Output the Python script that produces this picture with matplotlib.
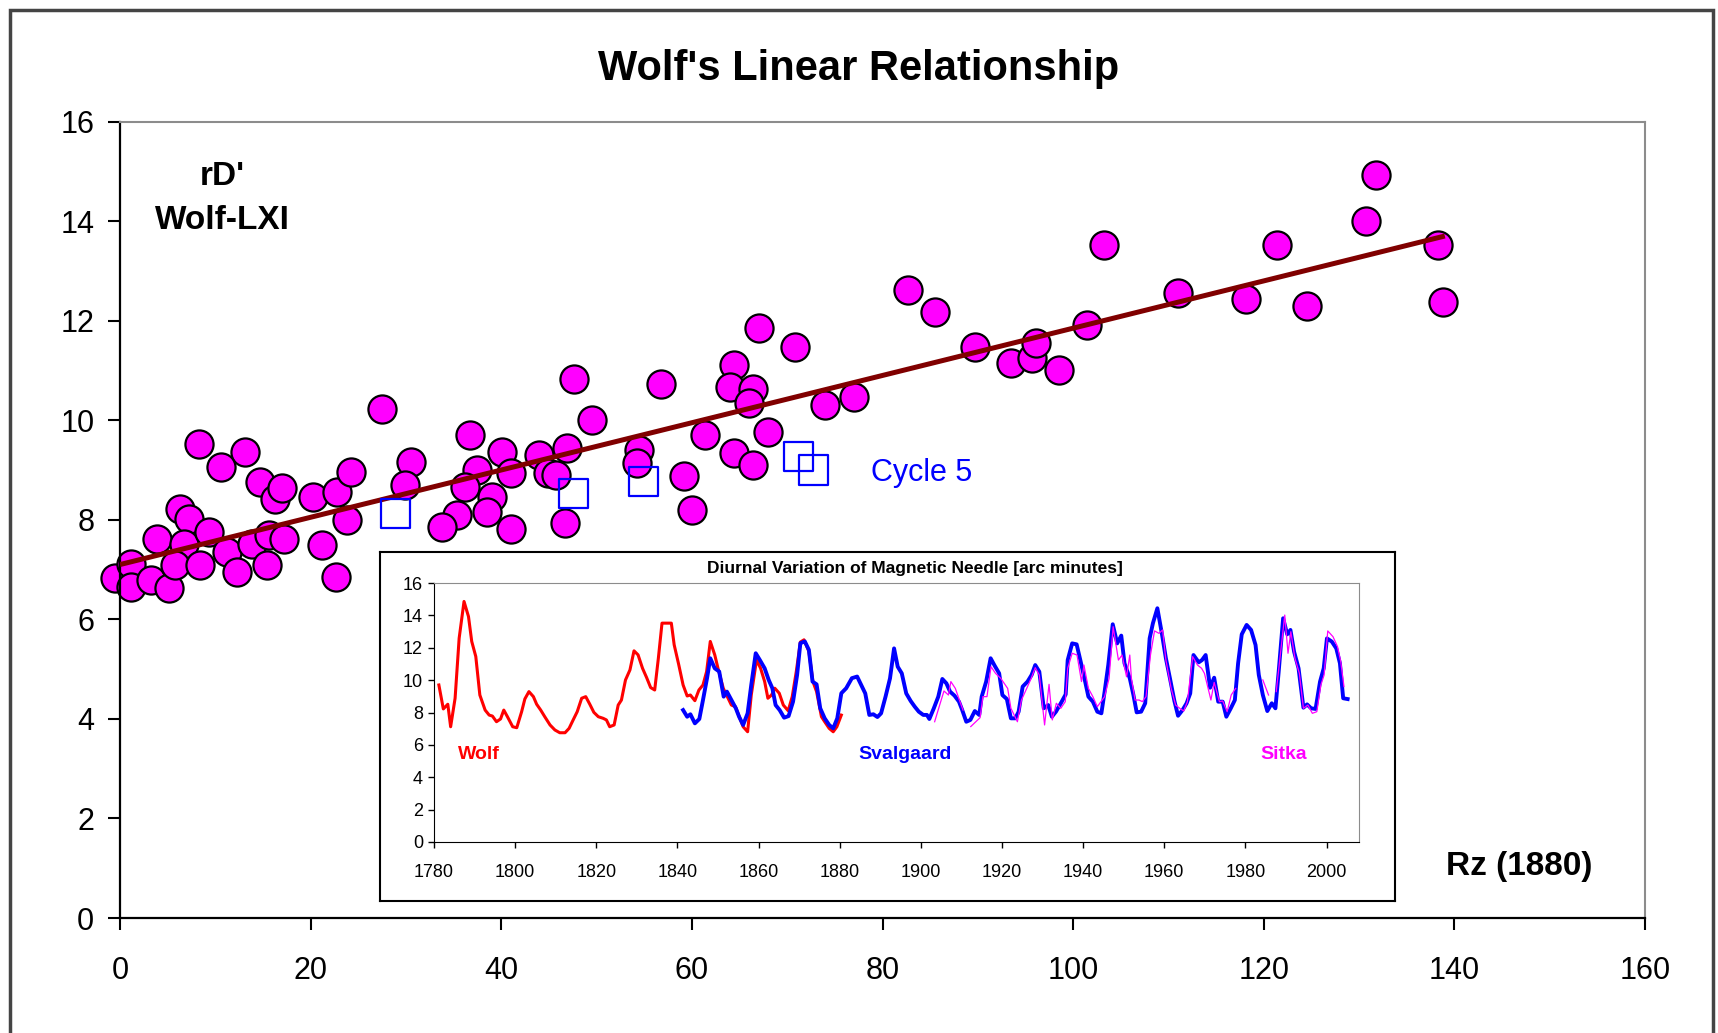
import matplotlib
matplotlib.use("Agg")
import matplotlib.pyplot as plt
import matplotlib.patches as mpatches
import numpy as np

plt.rcParams["font.family"] = ["Liberation Sans", "DejaVu Sans"]

# ---------------------------------------------------------------------------
# Main scatter: rD' (Wolf-LXI) vs Rz
# ---------------------------------------------------------------------------
rz = [-0.5, 1.2, 1.2, 3.3, 5.1, 3.9, 6.3, 7.2, 6.7, 9.3, 5.8, 8.4, 11.2, 12.3,
      13.8, 15.4, 15.6, 17.2, 8.3, 13.1, 10.6, 14.7, 16.3, 17.0, 20.3, 22.8,
      24.2, 23.8, 21.2, 22.7, 27.5, 30.5, 29.9, 36.7, 40.1, 37.5, 41.0, 36.2,
      39.0, 38.5, 35.4, 33.8, 41.0, 44.0, 44.9, 45.7, 46.9, 46.7, 47.6, 49.5,
      56.8, 54.4, 54.2, 61.4, 59.2, 60.0, 64.4, 64.0, 66.4, 66.0, 67.0, 70.8,
      68.0, 64.4, 66.4, 74.0, 77.0, 82.7, 85.5, 89.7, 93.5, 95.7, 96.1, 98.5,
      101.5, 103.2, 111.0, 118.1, 121.4, 124.5, 130.7, 131.8, 138.3, 138.8]
rd = [6.82, 7.12, 6.65, 6.79, 6.62, 7.62, 8.22, 8.02, 7.52, 7.76, 7.09, 7.09,
      7.36, 6.95, 7.52, 7.09, 7.69, 7.62, 9.53, 9.36, 9.06, 8.76, 8.41, 8.63,
      8.46, 8.56, 8.96, 7.99, 7.49, 6.85, 10.23, 9.16, 8.69, 9.70, 9.36, 9.00,
      8.93, 8.66, 8.46, 8.16, 8.09, 7.86, 7.82, 9.31, 8.94, 8.90, 9.45, 7.93,
      10.82, 10.01, 10.73, 9.40, 9.13, 9.70, 8.87, 8.20, 11.11, 10.67, 10.62,
      10.34, 11.85, 11.48, 9.77, 9.34, 9.10, 10.31, 10.47, 12.62, 12.18, 11.48,
      11.14, 11.24, 11.56, 11.01, 11.91, 13.52, 12.56, 12.43, 13.52, 12.29,
      14.01, 14.93, 13.52, 12.38]

# Cycle 5 (open squares)
c5_rz = [28.9, 47.6, 54.9, 71.2, 72.8]
c5_rd = [8.12, 8.52, 8.77, 9.27, 9.00]

# trend line end points
trend_x = [0.0, 139.0]
trend_y = [7.10, 13.70]

# ---------------------------------------------------------------------------
# Inset: diurnal variation time series
# ---------------------------------------------------------------------------
wolf_yr = [1781.2, 1782.3, 1783.4, 1784.1, 1785.2, 1786.2, 1787.4, 1788.5, 1789.3,
           1790.3, 1791.3, 1792.6, 1793.6, 1794.4, 1795.4, 1796.4, 1797.2, 1798.1,
           1799.4, 1800.4, 1801.6, 1802.4, 1803.4, 1804.5, 1805.3, 1806.3, 1807.3,
           1808.6, 1809.8, 1811.0, 1812.3, 1813.3, 1814.3, 1815.3, 1816.4, 1817.4,
           1818.4, 1819.4, 1820.5, 1821.7, 1822.5, 1823.3, 1824.4, 1825.4, 1826.2,
           1827.2, 1828.3, 1829.3, 1830.3, 1831.4, 1832.4, 1833.4, 1834.4, 1835.3,
           1836.2, 1837.3, 1838.5, 1839.2, 1840.3, 1841.4, 1842.4, 1843.2, 1844.3,
           1845.3, 1846.3, 1847.2, 1848.1, 1849.2, 1850.0, 1851.3, 1852.3, 1853.3,
           1854.3, 1855.4, 1856.2, 1857.3, 1858.2, 1859.5, 1860.5, 1861.5, 1862.3,
           1863.2, 1864.0, 1865.1, 1866.1, 1867.3, 1868.3, 1869.3, 1870.3, 1871.2,
           1872.4, 1873.4, 1874.3, 1875.5, 1876.3, 1877.4, 1878.4, 1879.3, 1880.4]
wolf_val = [9.70, 8.22, 8.51, 7.12, 8.88, 12.59, 14.86, 13.93, 12.39, 11.46, 9.08,
            8.15, 7.84, 7.78, 7.43, 7.60, 8.15, 7.74, 7.12, 7.06, 8.05, 8.84, 9.29,
            8.98, 8.51, 8.15, 7.74, 7.23, 6.92, 6.75, 6.75, 7.02, 7.54, 8.05, 8.88,
            8.98, 8.51, 8.01, 7.74, 7.64, 7.54, 7.12, 7.23, 8.46, 8.77, 10.01, 10.63,
            11.81, 11.56, 10.73, 10.16, 9.54, 9.39, 11.35, 13.52, 13.52, 13.52, 12.18,
            10.98, 9.70, 9.02, 9.08, 8.73, 9.39, 9.70, 10.53, 12.39, 11.56, 10.73,
            9.50, 8.98, 8.46, 8.36, 7.64, 7.12, 6.81, 9.08, 11.25, 10.73, 9.91, 8.88,
            9.08, 9.50, 9.19, 8.46, 8.11, 8.98, 10.53, 12.35, 12.49, 11.77, 9.91,
            9.29, 7.74, 7.43, 7.02, 6.81, 7.12, 7.84]

sval_yr = [1841.4, 1842.4, 1843.2, 1844.3, 1845.4, 1846.3, 1847.3, 1848.1, 1849.2,
           1850.3, 1851.4, 1852.2, 1853.3, 1854.4, 1855.2, 1856.2, 1857.3, 1858.2,
           1859.3, 1860.3, 1861.5, 1862.5, 1863.4, 1864.2, 1865.2, 1866.3, 1867.4,
           1868.5, 1869.5, 1870.3, 1871.4, 1872.4, 1873.3, 1874.3, 1875.2, 1876.3,
           1877.4, 1878.4, 1879.4, 1880.4, 1881.6, 1883.0, 1884.3, 1885.3, 1886.3,
           1887.3, 1888.3, 1889.3, 1890.2, 1891.3, 1892.4, 1893.4, 1894.3, 1895.3,
           1896.4, 1897.5, 1898.5, 1899.5, 1900.6, 1901.5, 1902.1, 1903.2, 1904.3,
           1905.3, 1906.3, 1907.2, 1908.3, 1909.4, 1910.2, 1911.2, 1912.2, 1913.3,
           1914.4, 1915.0, 1916.1, 1917.2, 1918.2, 1919.3, 1920.1, 1921.2, 1922.2,
           1923.3, 1924.1, 1925.1, 1926.3, 1927.3, 1928.2, 1929.2, 1930.3, 1931.4,
           1932.3, 1933.3, 1934.5, 1935.7, 1936.2, 1937.3, 1938.4, 1939.4, 1940.5,
           1941.3, 1942.4, 1943.5, 1944.5, 1945.3, 1946.2, 1947.3, 1948.4, 1949.4,
           1950.2, 1951.5, 1952.4, 1953.2, 1954.3, 1955.3, 1956.4, 1957.2, 1958.3,
           1959.4, 1960.4, 1961.4, 1962.5, 1963.4, 1964.5, 1965.5, 1966.4, 1967.2,
           1968.5, 1969.3, 1970.2, 1971.3, 1972.3, 1973.3, 1974.4, 1975.3, 1976.4,
           1977.4, 1978.2, 1979.1, 1980.3, 1981.4, 1982.5, 1983.3, 1984.3, 1985.4,
           1986.5, 1987.4, 1988.2, 1989.3, 1990.3, 1991.1, 1992.0, 1993.1, 1994.3,
           1995.2, 1996.2, 1997.3, 1998.4, 1999.3, 2000.1, 2001.3, 2002.4, 2003.3,
           2004.1, 2005.2]
sval_val = [8.15, 7.74, 7.89, 7.33, 7.60, 8.77, 10.12, 11.35, 10.73, 10.53, 8.98,
            9.29, 8.77, 8.26, 7.74, 7.23, 7.95, 9.70, 11.66, 11.25, 10.73, 10.01,
            9.50, 8.46, 8.15, 7.68, 7.78, 8.67, 10.32, 12.28, 12.39, 11.87, 9.91,
            9.74, 8.26, 7.64, 7.23, 7.02, 7.64, 9.19, 9.50, 10.12, 10.22, 9.70, 9.18,
            7.85, 7.89, 7.72, 7.95, 8.98, 10.11, 11.96, 10.83, 10.42, 9.18, 8.71,
            8.36, 8.05, 7.85, 7.85, 7.60, 8.26, 8.98, 10.07, 9.80, 9.29, 9.04, 8.67,
            8.15, 7.43, 7.54, 8.09, 7.85, 8.98, 9.91, 11.35, 10.89, 10.42, 9.08, 8.83,
            7.64, 7.64, 8.05, 9.60, 9.91, 10.32, 10.93, 10.52, 8.26, 8.46, 7.74, 8.05,
            8.57, 9.12, 11.24, 12.27, 12.21, 11.14, 9.91, 8.98, 8.67, 8.05, 7.95,
            9.29, 10.93, 13.45, 12.27, 12.75, 11.04, 10.11, 9.08, 8.01, 8.05, 8.57,
            12.58, 13.51, 14.44, 12.89, 11.35, 10.11, 8.71, 7.80, 8.15, 8.57, 9.18,
            11.55, 11.10, 11.24, 11.55, 9.53, 10.15, 8.67, 8.67, 7.74, 8.26, 8.77,
            11.04, 12.83, 13.41, 13.10, 12.17, 10.32, 9.08, 8.09, 8.57, 8.26, 10.52,
            13.82, 12.83, 13.10, 11.76, 10.73, 8.30, 8.50, 8.26, 8.22, 9.91, 10.73,
            12.58, 12.38, 11.96, 11.04, 8.88, 8.83]

# Sitka has gaps (nan breaks the line)
sitka_yr = [1903.4, 1904.4, 1905.7, 1906.8, 1907.4, 1908.5, 1909.5, 1910.4, 1911.0,
            1912.3, 1914.6, 1915.3, 1916.3, 1917.3, 1918.4, 1919.7, 1921.4, 1922.2,
            1923.8, 1924.8, 1926.1, 1927.2, 1928.2, 1929.2, 1930.5, 1931.6, 1932.4,
            1933.4, 1934.5, 1935.6, 1936.2, 1937.3, 1938.5, 1939.6, 1940.2, 1941.3,
            1942.4, 1943.5, 1945.3, 1946.4, 1947.4, 1948.7, 1949.6, 1950.7, 1951.5,
            1951.9, 1952.8, 1953.8, 1954.6, 1955.5, 1956.6, 1957.6, 1958.7, 1959.6,
            1960.4, 1961.7, 1962.8, 1963.8, 1964.8, 1965.7, 1967.0, 1968.2, 1969.2,
            1969.9, 1971.0, 1971.5, 1972.3, 1973.6, 1974.4, 1975.5, 1976.5, 1977.6,
            1980.0, 1984.3, 1985.7, 1986.5, 1987.6, 1988.6, 1989.7, 1990.5, 1991.2,
            1992.2, 1993.3, 1994.3, 1995.4, 1996.5, 1997.6, 1998.6, 1999.4, 2000.3,
            2001.6, 2002.7, 2003.5, 2004.3]
sitka_val = [7.43, 8.26, 9.33, 9.08, 9.91, 9.49, 8.77, 8.15, np.nan,
             7.13, 7.68, 8.98, 8.98, 10.83, 10.42, 10.11, 9.49, 8.26,
             7.43, 8.77, 9.49, 10.11, 10.77, 10.32, 7.23, 9.74, 7.54,
             8.57, 8.26, 8.67, 10.73, 11.66, 11.55, 9.91, 10.93, 9.49,
             8.98, 8.36, 8.98, 10.11, 13.30, 11.24, 11.55, 10.21, 11.55,
             10.11, 8.77, 8.77, 8.67, 8.98, 11.55, 13.04, 12.89, 13.10,
             11.24, 9.49, 8.46, 8.26, 8.09, 8.67, 11.45, 10.93, 10.73,
             10.42, 9.29, 8.77, 9.86, 8.67, 8.71, 8.05, 9.08, 9.49,
             np.nan, 10.01, 9.08, np.nan, 9.29, 11.55, 14.02, 11.66, 12.99,
             11.35, 10.42, 8.26, 8.46, 7.95, 8.05, 9.70, 10.32, 13.04,
             12.68, 12.07, 11.14, 9.60]

W, H = 1718, 1033
fig = plt.figure(figsize=(W / 100, H / 100), dpi=100)

def fx(px):
    return px / W

def fy(py):
    return 1 - py / H

# outer frame
fig.patches.append(mpatches.Rectangle((fx(10), -0.05), fx(1713) - fx(10), fy(10) + 0.05,
                                      transform=fig.transFigure, fill=False,
                                      edgecolor="#444444", lw=2.5, zorder=0))

fig.text(0.5, fy(69), "Wolf's Linear Relationship", ha="center", va="center",
         fontsize=30, fontweight="bold")

ax = fig.add_axes([fx(120), fy(918), fx(1645) - fx(120), fy(121.5) - fy(918)])
ax.plot(trend_x, trend_y, color="#800000", lw=3.6, zorder=3, solid_capstyle="butt")
ax.scatter(rz, rd, s=410, color="#FF00FF", edgecolors="black", linewidths=1.6,
           zorder=2, clip_on=False)
ax.scatter(c5_rz, c5_rd, s=440, marker="s", facecolors="none", edgecolors="#0000FF",
           linewidths=1.6, zorder=4)

ax.set_xlim(0, 160)
ax.set_ylim(0, 16)
ax.set_xticks(np.arange(0, 161, 20))
ax.set_yticks(np.arange(0, 17, 2))
ax.tick_params(direction="out", length=8.5, width=1.5, labelsize=22)
ax.tick_params(axis="x", pad=19)
ax.tick_params(axis="y", pad=10)
for s in ["left", "bottom"]:
    ax.spines[s].set_linewidth(1.6)
    ax.spines[s].set_color("black")
for s in ["top", "right"]:
    ax.spines[s].set_linewidth(1.5)
    ax.spines[s].set_color("#8c8c8c")

ax.text(10.7, 14.89, "rD'", ha="center", va="center", fontsize=24, fontweight="bold")
ax.text(10.7, 14.02, "Wolf-LXI", ha="center", va="center", fontsize=24, fontweight="bold")
ax.text(78.8, 8.94, "Cycle 5", ha="left", va="center", fontsize=22, color="#0000FF")
ax.text(146.8, 1.03, "Rz (1880)", ha="center", va="center", fontsize=24, fontweight="bold")

# inset frame
box = fig.add_axes([fx(380), fy(901), fx(1395) - fx(380), fy(552) - fy(901)])
box.set_xticks([])
box.set_yticks([])
for s in box.spines.values():
    s.set_linewidth(1.5)
    s.set_color("black")
box.set_zorder(5)

fig.text(fx(915), fy(569), "Diurnal Variation of Magnetic Needle [arc minutes]",
         ha="center", va="center", fontsize=12.5, fontweight="bold", zorder=10)

iax = fig.add_axes([fx(434), fy(842), fx(1359) - fx(434), fy(583) - fy(842)])
iax.set_zorder(6)
iax.plot(wolf_yr, wolf_val, color="#FF0000", lw=2.2)
iax.plot(sval_yr, sval_val, color="#0000FF", lw=2.8)
iax.plot(sitka_yr, sitka_val, color="#FF00FF", lw=0.9)
iax.set_xlim(1780, 2008)
iax.set_ylim(0, 16)
iax.set_xticks(np.arange(1780, 2001, 20))
iax.set_yticks(np.arange(0, 17, 2))
iax.tick_params(direction="out", length=4.5, width=1, labelsize=13)
iax.tick_params(axis="x", pad=11)
for s in ["left", "bottom"]:
    iax.spines[s].set_color("black")
for s in ["top", "right"]:
    iax.spines[s].set_color("#8c8c8c")

iax.text(1786, 5.4, "Wolf", color="#FF0000", fontsize=14, fontweight="bold",
         ha="left", va="center")
iax.text(1884.5, 5.4, "Svalgaard", color="#0000FF", fontsize=14, fontweight="bold",
         ha="left", va="center")
iax.text(1983.7, 5.4, "Sitka", color="#FF00FF", fontsize=14, fontweight="bold",
         ha="left", va="center")

fig.savefig("out.png", dpi=100)
